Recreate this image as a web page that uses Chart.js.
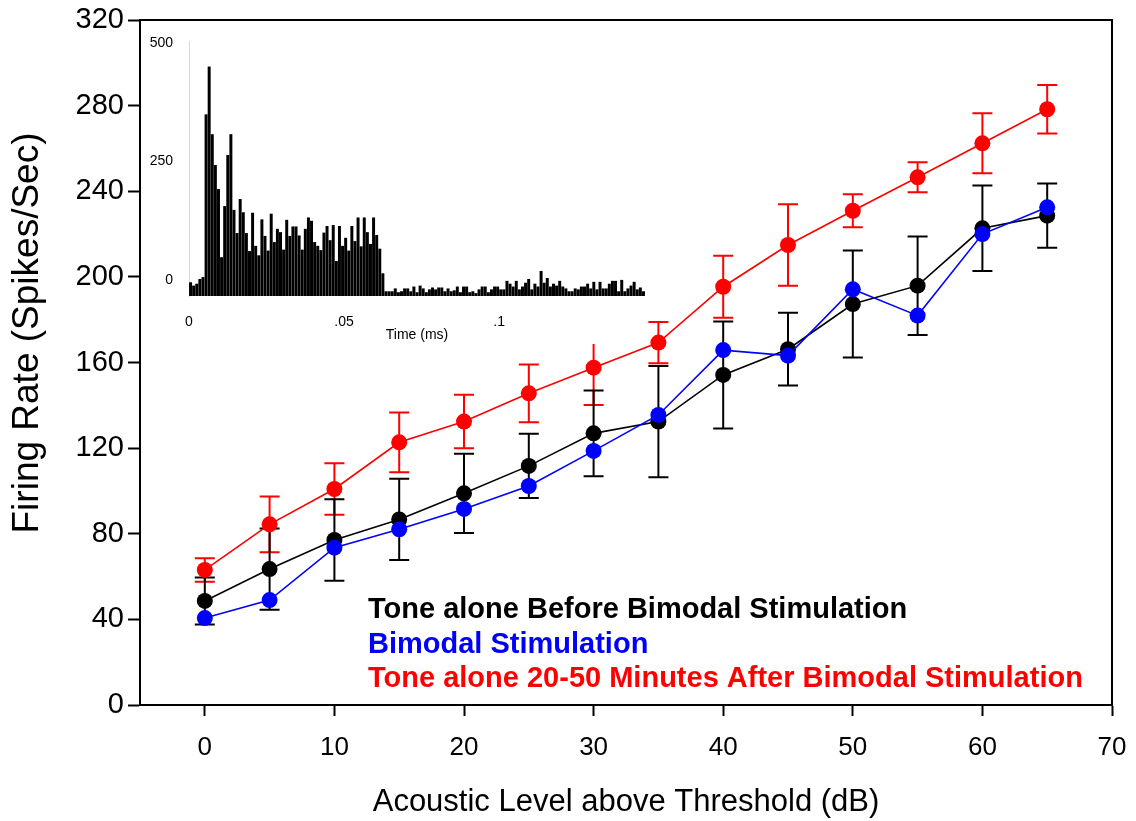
<!DOCTYPE html>
<html>
<head>
<meta charset="utf-8">
<script src="https://cdn.jsdelivr.net/npm/chart.js@4.4.1/dist/chart.umd.min.js"></script>
<style>
  html, body { margin: 0; padding: 0; background: #fff; }
  #wrap { position: relative; width: 1136px; height: 821px; }
  #mainChart { position: absolute; left: 0; top: 0; }
  #insetChart { position: absolute; left: 145px; top: 22px; background: #fff; }
</style>
</head>
<body>
<div id="wrap">
  <canvas id="mainChart" width="1136" height="821"></canvas>
  <canvas id="insetChart" width="503" height="322"></canvas>
</div>
<script>
// acoustic level (dB above threshold)
const levels = [0, 5, 10, 15, 20, 25, 30, 35, 40, 45, 50, 55, 60, 65];
const xTicks = [0, 10, 20, 30, 40, 50, 60, 70];
const yTicks = [0, 40, 80, 120, 160, 200, 240, 280, 320];

// firing rate (spikes/sec)
const toneBefore = [48.6, 63.5, 77.1, 86.7, 98.9, 111.7, 126.9, 132.4, 154.2, 166.2, 187.3, 195.9, 222.7, 228.6];
const toneBeforeErr = [11, 19, 19, 19, 18.5, 15, 20, 26, 25, 17, 25, 23, 20, 15];
const bimodal = [40.6, 49, 73.5, 82.1, 91.6, 102.3, 118.7, 135.5, 165.8, 163.2, 194.2, 181.9, 220, 232.5];
const toneAfter = [63.1, 84.4, 100.9, 122.7, 132.4, 145.6, 157.6, 169.3, 195.4, 214.9, 230.9, 246.5, 262.4, 278.3];
const toneAfterErr = [5.5, 13, 12, 14, 12.5, 13.5, 17.5, 9.6, 14.5, 19, 7.7, 7, 14, 11.3];

const legendLines = [
    ['Tone alone Before Bimodal Stimulation', '#000000'],
    ['Bimodal Stimulation', '#0000ff'],
    ['Tone alone 20-50 Minutes After Bimodal Stimulation', '#ff0000']
];

// inset PSTH (1 ms bins)
const binWidth = 0.001;
const histFloor = -34;
const histTicks = [0, 0.05, 0.1];
const histYTicks = [0, 250, 500];
const histCounts = [
    -5, -12, -8, 2, 6,
    350, 451, 308, 243, 192, 48, 156, 264, 308, 148,
    99, 171, 143, 99, 61, 142, 72, 52, 128, 93,
    62, 140, 80, 108, 101, 64, 127, 93, 113, 113,
    94, 64, 108, 132, 125, 80, 72, 63, 100, 114,
    84, 116, 40, 114, 72, 89, 62, 114, 82, 132,
    71, 132, 101, 76, 132, 95, 66,
    14, -24, -24, -24, -18, -26, -24, -18, -18, -24,
    -14, -26, -12, -18, -26, -20, -16, -20, -16, -16,
    -24, -18, -24, -22, -14, -26, -14, -14, -26, -24,
    -28, -20, -14, -14, -26, -20, -14, -14, -20, -20,
    -2, -8, -14, -2, -20, -14, -6, 2, -20, -8,
    -14, 19, -6, 4, -14, -8, -12, -2, -14, -18,
    -24, -24, -18, -20, -14, -14, -8, -18, -4, -20,
    -4, -18, -18, -8, -2, -2, -24, 0, -24, -18,
    -12, -4, -20, -16, -24
];

const FONT = "'Liberation Sans', Arial, Helvetica, sans-serif";

function toPoints(vals) {
    return vals.map((v, i) => ({ x: levels[i], y: v }));
}

// error bars drawn under the markers
const errorBars = {
    id: 'errorBars',
    beforeDatasetsDraw(chart) {
        const { ctx, scales: { x, y } } = chart;
        chart.data.datasets.forEach(ds => {
            if (!ds.errors) return;
            ctx.save();
            ctx.strokeStyle = ds.borderColor;
            ctx.lineWidth = 2;
            ds.data.forEach((p, i) => {
                const e = ds.errors[i];
                const px = x.getPixelForValue(p.x);
                const top = y.getPixelForValue(p.y + e);
                const bot = y.getPixelForValue(p.y - e);
                ctx.beginPath();
                ctx.moveTo(px, top); ctx.lineTo(px, bot);
                ctx.moveTo(px - 10, top); ctx.lineTo(px + 10, top);
                ctx.moveTo(px - 10, bot); ctx.lineTo(px + 10, bot);
                ctx.stroke();
            });
            ctx.restore();
        });
    }
};

// top and right edges of the box, y title, text legend
const decorations = {
    id: 'decorations',
    afterDraw(chart) {
        const { ctx, chartArea: a } = chart;
        ctx.save();
        ctx.strokeStyle = '#000';
        ctx.lineWidth = 2;
        ctx.beginPath();
        ctx.moveTo(a.left, a.top); ctx.lineTo(a.right, a.top); ctx.lineTo(a.right, a.bottom);
        ctx.stroke();

        ctx.fillStyle = '#000';
        ctx.font = '37px ' + FONT;
        ctx.textAlign = 'center';
        ctx.textBaseline = 'middle';
        ctx.translate(28, 333);
        ctx.rotate(-Math.PI / 2);
        ctx.fillText('Firing Rate (Spikes/Sec)', 0, 0);
        ctx.restore();

        ctx.save();
        ctx.font = 'bold 29px ' + FONT;
        ctx.textBaseline = 'middle';
        legendLines.forEach((l, i) => {
            ctx.fillStyle = l[1];
            ctx.fillText(l[0], a.left + 228, a.bottom - 95 + i * 34.5);
        });
        ctx.restore();
    }
};

function lineSet(label, vals, color, order, errors) {
    return {
        label: label,
        data: toPoints(vals),
        errors: errors,
        borderColor: color,
        backgroundColor: color,
        borderWidth: 1.6,
        pointRadius: 8,
        pointHoverRadius: 8,
        pointBorderWidth: 0,
        pointBackgroundColor: color,
        order: order,
        tension: 0
    };
}

new Chart(document.getElementById('mainChart'), {
    type: 'line',
    data: {
        datasets: [
            lineSet(legendLines[2][0], toneAfter, '#ff0000', 0, toneAfterErr),
            lineSet(legendLines[1][0], bimodal, '#0000ff', 1, null),
            lineSet(legendLines[0][0], toneBefore, '#000000', 2, toneBeforeErr)
        ]
    },
    options: {
        responsive: false,
        animation: false,
        devicePixelRatio: 1,
        layout: { padding: { top: 20, right: 24, left: 0, bottom: 0 } },
        plugins: { legend: { display: false }, tooltip: { enabled: false } },
        scales: {
            x: {
                type: 'linear',
                min: -5,
                max: 70,
                afterBuildTicks: s => { s.ticks = xTicks.map(v => ({ value: v })); },
                afterFit: s => { s.height = 116; s.paddingLeft = 0; s.paddingRight = 0; },
                grid: { drawOnChartArea: false, drawTicks: true, tickLength: 11, tickWidth: 2, tickColor: '#000' },
                border: { display: true, color: '#000', width: 2 },
                ticks: { color: '#000', font: { family: FONT, size: 26 }, padding: 16, maxRotation: 0 },
                title: { display: true, text: 'Acoustic Level above Threshold (dB)', color: '#000', font: { family: FONT, size: 31 }, padding: 0 }
            },
            y: {
                type: 'linear',
                min: 0,
                max: 320,
                afterBuildTicks: s => { s.ticks = yTicks.map(v => ({ value: v })); },
                afterFit: s => { s.width = 140; s.paddingTop = 0; s.paddingBottom = 0; },
                grid: { drawOnChartArea: false, drawTicks: true, tickLength: 12, tickWidth: 2, tickColor: '#000' },
                border: { display: true, color: '#000', width: 2 },
                ticks: { color: '#000', font: { family: FONT, size: 29 }, padding: 4 }
            }
        }
    },
    plugins: [errorBars, decorations]
});

// inset histogram
new Chart(document.getElementById('insetChart'), {
    type: 'bar',
    data: {
        datasets: [{
            data: histCounts.map((v, i) => ({ x: (i + 0.5) * binWidth, y: [histFloor, v] })),
            backgroundColor: '#000',
            borderWidth: 0,
            barPercentage: 0.96,
            categoryPercentage: 1
        }]
    },
    options: {
        responsive: false,
        animation: false,
        devicePixelRatio: 1,
        layout: { padding: { top: 19, right: 3, left: 0, bottom: 0 } },
        plugins: { legend: { display: false }, tooltip: { enabled: false } },
        scales: {
            x: {
                type: 'linear',
                min: 0,
                max: histCounts.length * binWidth,
                offset: false,
                afterBuildTicks: s => { s.ticks = histTicks.map(v => ({ value: v })); },
                afterFit: s => { s.height = 48; },
                grid: { display: false },
                border: { display: false },
                ticks: {
                    color: '#000',
                    font: { family: FONT, size: 14 },
                    padding: 10,
                    callback: v => v === 0 ? '0' : String(v).replace(/^0/, '')
                },
                title: { display: true, text: 'Time (ms)', color: '#000', font: { family: FONT, size: 14 }, padding: { top: 0, bottom: 0 } }
            },
            y: {
                min: histFloor,
                max: 505,
                afterBuildTicks: s => { s.ticks = histYTicks.map(v => ({ value: v })); },
                afterFit: s => { s.width = 44; },
                grid: { display: false },
                border: { display: true, color: '#d8d8d8', width: 1 },
                ticks: { color: '#000', font: { family: FONT, size: 14 }, padding: 8 }
            }
        }
    }
});
</script>
</body>
</html>
